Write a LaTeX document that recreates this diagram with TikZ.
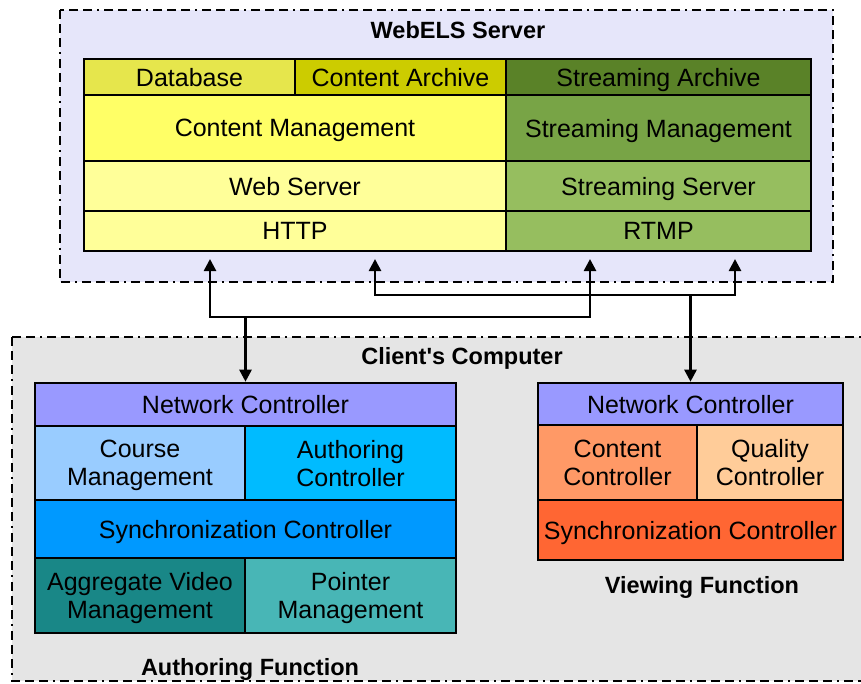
\documentclass[tikz,border=0pt]{standalone}
\usepackage{fontspec}
\setmainfont{Liberation Sans}
\usetikzlibrary{arrows.meta}

\definecolor{srvbg}{RGB}{230,230,250}
\definecolor{clibg}{RGB}{229,229,229}
\definecolor{dbcol}{RGB}{230,230,76}
\definecolor{arccol}{RGB}{204,204,0}
\definecolor{cmcol}{RGB}{255,255,102}
\definecolor{webcol}{RGB}{255,255,153}
\definecolor{sarccol}{RGB}{90,130,40}
\definecolor{smcol}{RGB}{120,164,70}
\definecolor{sscol}{RGB}{150,190,95}
\definecolor{netcol}{RGB}{153,153,255}
\definecolor{coursecol}{RGB}{153,204,255}
\definecolor{authcol}{RGB}{0,187,255}
\definecolor{synccol}{RGB}{0,153,255}
\definecolor{aggrcol}{RGB}{25,135,135}
\definecolor{ptrcol}{RGB}{72,182,182}
\definecolor{contcol}{RGB}{255,153,102}
\definecolor{qualcol}{RGB}{255,204,153}
\definecolor{syncvcol}{RGB}{255,102,51}

\begin{document}
\begin{tikzpicture}[x=1pt,y=-1pt,
    blk/.style={draw=black, line width=2.6pt, inner sep=0pt, align=center, text depth=0pt,
        font=\fontsize{25}{28}\selectfont},
    ttl/.style={text depth=0pt, font=\fontsize{23.5}{27}\selectfont\bfseries},
    frame/.style={line width=2.2pt, dash pattern=on 9pt off 5pt on 9pt off 5pt on 9pt off 5pt on 2pt off 5pt},
    arr/.style={line width=2.6pt, -{Triangle[length=12pt,width=12pt]}}]
    \useasboundingbox (0,0) rectangle (861,683);

    % frames
    \draw[frame, fill=srvbg] (60,10) rectangle (833,282);
    \node[ttl] (srvtitle) at (458,30) {WebELS Server};
    \draw[frame, fill=clibg] (12,337) rectangle (880,681);
    \node[ttl] (clititle) at (462,356) {Client\textquotesingle s Computer};

    % server stack
    \node[blk, fill=dbcol, minimum width=211pt, minimum height=36pt] (db) at (189.5,77) {Database};
    \node[blk, fill=arccol, minimum width=211pt, minimum height=36pt] (arc) at (400.5,77) {Content Archive};
    \node[blk, fill=sarccol, minimum width=305pt, minimum height=36pt] (sarc) at (658.5,77) {Streaming Archive};
    \node[blk, fill=cmcol, minimum width=422pt, minimum height=66pt] (cm) at (295,128) {Content Management};
    \node[blk, fill=smcol, minimum width=305pt, minimum height=66pt] (sm) at (658.5,128) {Streaming Management};
    \node[blk, fill=webcol, minimum width=422pt, minimum height=50pt] (web) at (295,186) {Web Server};
    \node[blk, fill=sscol, minimum width=305pt, minimum height=50pt] (ss) at (658.5,186) {Streaming Server};
    \node[blk, fill=webcol, minimum width=422pt, minimum height=40pt] (http) at (295,231) {HTTP};
    \node[blk, fill=sscol, minimum width=305pt, minimum height=40pt] (rtmp) at (658.5,231) {RTMP};

    % authoring stack
    \node[blk, fill=netcol, minimum width=421pt, minimum height=43pt] (netA) at (245.5,404.5) {Network Controller};
    \node[blk, fill=coursecol, minimum width=210pt, minimum height=74pt] (course) at (140,463) {Course\\Management};
    \node[blk, fill=authcol, minimum width=211pt, minimum height=74pt] (authc) at (350.5,463) {Authoring\\Controller};
    \node[blk, fill=synccol, minimum width=421pt, minimum height=58pt] (syncA) at (245.5,529) {Synchronization Controller};
    \node[blk, fill=aggrcol, minimum width=210pt, minimum height=75pt] (aggr) at (140,595.5) {Aggregate Video\\Management};
    \node[blk, fill=ptrcol, minimum width=211pt, minimum height=75pt] (ptr) at (350.5,595.5) {Pointer\\Management};
    \node[ttl] (authlbl) at (250,667) {Authoring Function};

    % viewing stack
    \node[blk, fill=netcol, minimum width=305pt, minimum height=42pt] (netV) at (690.5,404) {Network Controller};
    \node[blk, fill=contcol, minimum width=159pt, minimum height=75pt] (cont) at (617.5,462.5) {Content\\Controller};
    \node[blk, fill=qualcol, minimum width=146pt, minimum height=75pt] (qual) at (770,462.5) {Quality\\Controller};
    \node[blk, fill=syncvcol, minimum width=305pt, minimum height=60pt] (syncV) at (690.5,530) {Synchronization Controller};
    \node[ttl] (viewlbl) at (702,585) {Viewing Function};

    % connections
    \coordinate (jA) at (245.5,317);
    \coordinate (jV) at (690.5,295);
    \coordinate (tA1) at (210,259);
    \coordinate (tA2) at (590,259);
    \coordinate (tV1) at (375,259);
    \coordinate (tV2) at (735,259);
    \draw[arr] (jA) -| (tA1);
    \draw[arr] (jA) -| (tA2);
    \draw[arr] (jA) -- (netA);
    \draw[arr] (jV) -| (tV1);
    \draw[arr] (jV) -| (tV2);
    \draw[arr] (jV) -- (netV);
\end{tikzpicture}
\end{document}
